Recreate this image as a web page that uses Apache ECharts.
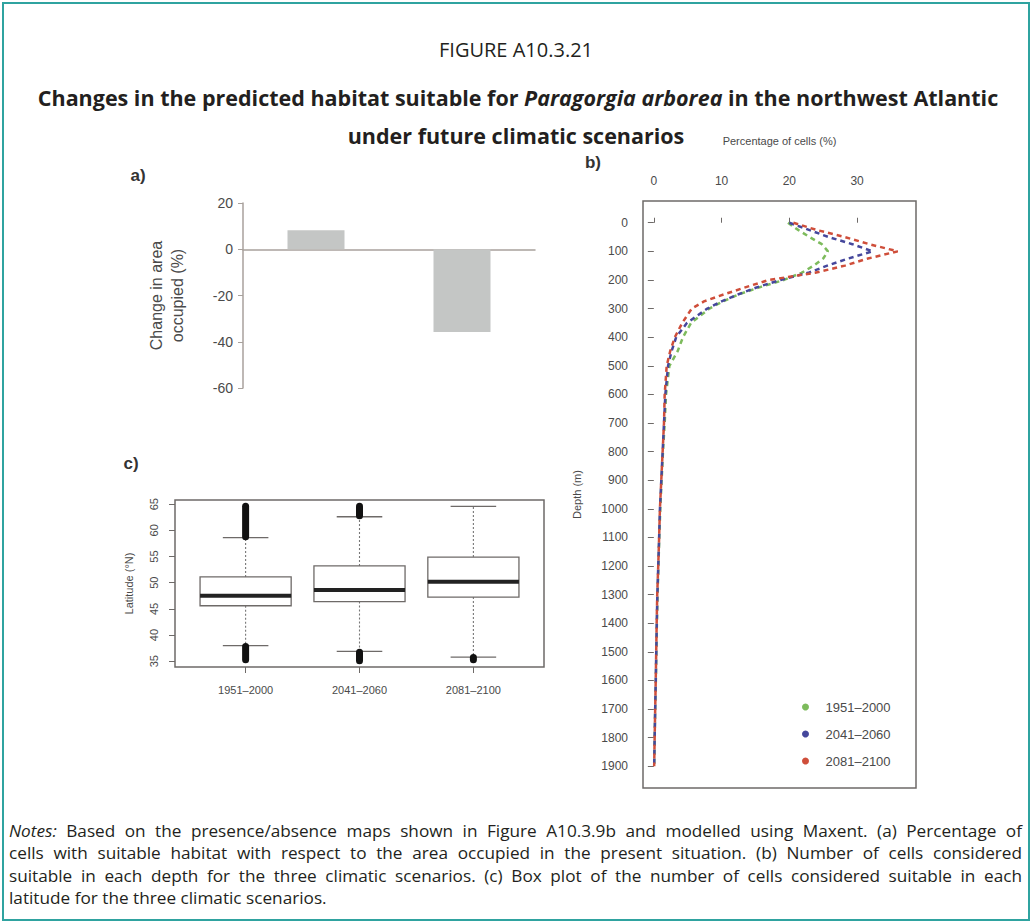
<!DOCTYPE html>
<html>
<head>
<meta charset="utf-8">
<script src="https://cdn.jsdelivr.net/npm/echarts@6/dist/echarts.min.js"></script>
<style>
html,body{margin:0;padding:0;background:#fff;}
#wrap{position:relative;width:1033px;height:922px;overflow:hidden;}
#chart{position:absolute;left:0;top:0;width:1033px;height:922px;}
#notes{position:absolute;left:9px;top:820px;width:1013px;font-family:"Open Sans",sans-serif;font-size:17.2px;line-height:22.3px;color:#231f20;}
#notes div{text-align:justify;text-align-last:justify;}
#notes div.last{text-align-last:left;}
</style>
</head>
<body>
<div id="wrap">
<div id="chart"></div>
<div id="notes">
<div><i>Notes:</i> Based on the presence/absence maps shown in Figure A10.3.9b and modelled using Maxent. (a) Percentage of</div>
<div>cells with suitable habitat with respect to the area occupied in the present situation. (b) Number of cells considered</div>
<div>suitable in each depth for the three climatic scenarios. (c) Box plot of the number of cells considered suitable in each</div>
<div class="last">latitude for the three climatic scenarios.</div>
</div>
</div>
<script>
// ---------- data ----------
const scenarios = ['1951\u20132000', '2041\u20132060', '2081\u20132100'];
const scenarioColors = ['#7dbb5c', '#45479c', '#cf4e3a'];

// (a) change in area occupied (%)
const barCategories = ['2041\u20132060', '2081\u20132100'];
const areaChange = [8.2, -35.8];

// (b) percentage of cells by depth
const pctTicks = [0, 10, 20, 30];
const depthTicks = [0, 100, 200, 300, 400, 500, 600, 700, 800, 900, 1000, 1100, 1200, 1300, 1400, 1500, 1600, 1700, 1800, 1900];
const depths = [0, 25, 50, 75, 100, 125, 150, 175, 200, 225, 250, 275, 300, 350, 400, 450, 500, 600, 700, 800, 900, 1000, 1100, 1200, 1300, 1400, 1500, 1600, 1700, 1800, 1900];
const pct1951 = [19.8, 21.3, 23.0, 24.8, 25.7, 25.0, 23.6, 21.8, 19.2, 15.7, 12.6, 10.2, 8.2, 5.5, 4.3, 3.5, 2.3, 1.8, 1.6, 1.35, 1.15, 0.95, 0.8, 0.68, 0.55, 0.45, 0.38, 0.3, 0.2, 0.12, 0.05];
const pct2041 = [20.0, 22.9, 25.8, 29.3, 32.3, 28.7, 25.6, 22.8, 18.7, 15.3, 12.5, 10.0, 7.9, 4.9, 3.3, 2.6, 2.1, 1.7, 1.5, 1.3, 1.1, 0.9, 0.78, 0.65, 0.52, 0.43, 0.36, 0.28, 0.2, 0.12, 0.05];
const pct2081 = [20.6, 24.0, 28.2, 31.8, 36.0, 31.6, 28.2, 23.8, 17.0, 13.6, 10.4, 7.4, 5.6, 4.2, 3.1, 2.4, 1.9, 1.6, 1.5, 1.3, 1.1, 0.9, 0.78, 0.65, 0.5, 0.42, 0.35, 0.28, 0.2, 0.12, 0.05];
const pctSeries = [pct1951, pct2041, pct2081];

// (c) latitude box plots
const latTicks = [35, 40, 45, 50, 55, 60, 65];
const boxLow  = [38.0, 36.9, 35.8];
const boxQ1   = [45.6, 46.4, 47.25];
const boxMed  = [47.5, 48.6, 50.2];
const boxQ3   = [51.1, 53.2, 54.9];
const boxHigh = [58.6, 62.6, 64.6];
// ranges covered by dense outlier points: [group, from, to]
const outlierRanges = [[1, 58.8, 64.6], [1, 35.3, 37.8], [2, 62.8, 64.6], [2, 35.1, 36.7], [3, 35.3, 35.7]];

// ---------- chart ----------
const chart = echarts.init(document.getElementById('chart'), null, {renderer: 'svg'});
const FONT = 'Liberation Sans';
const FRAME = '#6e6a68';
const TXT = '#4a4a4a';

function renderBox(params, api) {
  const x = api.value(0);
  const lo = api.value(1), q1 = api.value(2), med = api.value(3), q3 = api.value(4), hi = api.value(5);
  const p = (xx, yy) => api.coord([xx, yy]);
  const bw = 0.4, sw = 0.2;
  const tl = p(x - bw, q3), br = p(x + bw, q1);
  const lineStyle = {stroke: FRAME, lineWidth: 1.3, fill: null};
  const dash = {stroke: '#777', lineWidth: 1.1, lineDash: [2, 2], fill: null};
  const mk = (a, b, st) => ({type: 'line', shape: {x1: a[0], y1: a[1], x2: b[0], y2: b[1]}, style: st});
  return {
    type: 'group',
    children: [
      mk(p(x, q3), p(x, hi), dash),
      mk(p(x, q1), p(x, lo), dash),
      mk(p(x - sw, hi), p(x + sw, hi), lineStyle),
      mk(p(x - sw, lo), p(x + sw, lo), lineStyle),
      {type: 'rect', shape: {x: tl[0], y: tl[1], width: br[0] - tl[0], height: br[1] - tl[1]}, style: {fill: '#fff', stroke: FRAME, lineWidth: 1.3}},
      mk(p(x - bw, med), p(x + bw, med), {stroke: '#222', lineWidth: 4})
    ]
  };
}
function renderOutliers(params, api) {
  const a = api.coord([api.value(0), api.value(1)]);
  const b = api.coord([api.value(0), api.value(2)]);
  return {type: 'line', shape: {x1: a[0], y1: a[1], x2: b[0], y2: b[1]}, style: {stroke: '#111', lineWidth: 7, lineCap: 'round'}};
}

const option = {
  animation: false,
  backgroundColor: '#fff',
  textStyle: {fontFamily: FONT},
  grid: [
    {left: 243, top: 203, width: 292, height: 185},
    {left: 643, top: 201, width: 273, height: 587, show: true, borderColor: FRAME, borderWidth: 1.5, backgroundColor: 'transparent'},
    {left: 175, top: 500, width: 369, height: 167, show: true, borderColor: FRAME, borderWidth: 1.5, backgroundColor: 'transparent'}
  ],
  xAxis: [
    {gridIndex: 0, type: 'category', data: barCategories,
      axisLine: {onZero: true, lineStyle: {color: '#a8a19c', width: 1.5}},
      axisTick: {show: false}, axisLabel: {show: false}, splitLine: {show: false}},
    {gridIndex: 1, type: 'value', position: 'top', min: -1.6, max: 38.7,
      axisLine: {show: false}, splitLine: {show: false},
      axisTick: {show: true, customValues: pctTicks, length: 5, lineStyle: {color: FRAME}},
      axisLabel: {customValues: pctTicks, margin: 14, fontSize: 12, color: TXT},
      name: 'Percentage of cells (%)', nameLocation: 'middle', nameGap: 55,
      nameTextStyle: {fontSize: 11, color: TXT}},
    {gridIndex: 2, type: 'value', min: 0.38, max: 3.62,
      axisLine: {show: false}, splitLine: {show: false},
      axisTick: {show: true, customValues: [1, 2, 3], length: 6, lineStyle: {color: FRAME}},
      axisLabel: {customValues: [1, 2, 3], margin: 17, fontSize: 11, color: TXT,
        formatter: v => scenarios[Math.round(v) - 1]}}
  ],
  yAxis: [
    {gridIndex: 0, type: 'value', min: -60, max: 20, interval: 20,
      axisLine: {show: true, lineStyle: {color: '#a8a19c', width: 1.5}},
      axisTick: {show: true, length: 5, lineStyle: {color: '#a8a19c'}},
      axisLabel: {fontSize: 14, color: TXT, margin: 10}, splitLine: {show: false},
      name: 'Change in area\noccupied (%)', nameLocation: 'middle', nameRotate: 90, nameGap: 55,
      nameTextStyle: {fontSize: 16, lineHeight: 21, color: TXT}},
    {gridIndex: 1, type: 'value', inverse: true, min: -76, max: 1976,
      axisLine: {show: false}, splitLine: {show: false},
      axisTick: {show: true, customValues: depthTicks, length: 6, lineStyle: {color: FRAME}},
      axisLabel: {customValues: depthTicks, margin: 15, fontSize: 12, color: TXT, formatter: v => String(v)},
      name: 'Depth (m)', nameLocation: 'middle', nameRotate: 90, nameGap: 61,
      nameTextStyle: {fontSize: 11, color: TXT}},
    {gridIndex: 2, type: 'value', min: 33.9, max: 65.8,
      axisLine: {show: false}, splitLine: {show: false},
      axisTick: {show: true, customValues: latTicks, length: 6, lineStyle: {color: FRAME}},
      axisLabel: {customValues: latTicks, rotate: 90, margin: 16, fontSize: 11, color: TXT},
      name: 'Latitude (\u00b0N)', nameLocation: 'middle', nameRotate: 90, nameGap: 41,
      nameTextStyle: {fontSize: 11, color: TXT}}
  ],
  legend: {
    data: scenarios, orient: 'vertical', left: 797, top: 695, icon: 'circle',
    itemWidth: 30, itemHeight: 7, itemGap: 13,
    textStyle: {fontSize: 13, color: TXT, lineHeight: 14, fontFamily: FONT}
  },
  series: [
    {type: 'bar', xAxisIndex: 0, yAxisIndex: 0, data: areaChange, barWidth: 57,
      itemStyle: {color: '#c4c6c5'}},
    ...pctSeries.map((arr, k) => ({
      type: 'line', name: scenarios[k], xAxisIndex: 1, yAxisIndex: 1,
      data: depths.map((d, i) => [arr[i], d]),
      showSymbol: false, smooth: false,
      itemStyle: {color: scenarioColors[k]},
      lineStyle: {color: scenarioColors[k], width: 2.5, type: [5, 4]},
      z: 3 + k
    })),
    {type: 'custom', xAxisIndex: 2, yAxisIndex: 2, renderItem: renderBox,
      encode: {x: 0, y: [1, 2, 3, 4, 5]},
      data: scenarios.map((s, i) => [i + 1, boxLow[i], boxQ1[i], boxMed[i], boxQ3[i], boxHigh[i]])},
    {type: 'custom', xAxisIndex: 2, yAxisIndex: 2, renderItem: renderOutliers,
      encode: {x: 0, y: [1, 2]}, data: outlierRanges, z: 5}
  ],
  graphic: [
    {type: 'rect', shape: {x: 3, y: 3, width: 1026, height: 917}, style: {fill: null, stroke: '#2fa3a0', lineWidth: 2}, silent: true},
    {type: 'text', x: 516, y: 49, style: {text: 'FIGURE A10.3.21', font: '20px "Open Sans"', fill: '#231f20', textAlign: 'center', textVerticalAlign: 'middle'}},
    {type: 'text', x: 518, y: 97, style: {
      text: '{b|Changes in the predicted habitat suitable for }{bi|Paragorgia arborea}{b| in the northwest Atlantic}',
      rich: {b: {fontFamily: 'Open Sans', fontWeight: 'bold', fontSize: 21.5, fill: '#231f20'},
             bi: {fontFamily: 'Open Sans', fontWeight: 'bold', fontStyle: 'italic', fontSize: 21.5, fill: '#231f20'}},
      textAlign: 'center', textVerticalAlign: 'middle'}},
    {type: 'text', x: 516, y: 135, style: {text: 'under future climatic scenarios', font: 'bold 21.5px "Open Sans"', fill: '#231f20', textAlign: 'center', textVerticalAlign: 'middle'}},
    {type: 'text', x: 138, y: 175, style: {text: 'a)', font: 'bold 17px "Liberation Sans"', fill: '#333', textAlign: 'center', textVerticalAlign: 'middle'}},
    {type: 'text', x: 593, y: 162, style: {text: 'b)', font: 'bold 17px "Liberation Sans"', fill: '#333', textAlign: 'center', textVerticalAlign: 'middle'}},
    {type: 'text', x: 131, y: 463, style: {text: 'c)', font: 'bold 17px "Liberation Sans"', fill: '#333', textAlign: 'center', textVerticalAlign: 'middle'}}
  ]
};
chart.setOption(option);
</script>
</body>
</html>
